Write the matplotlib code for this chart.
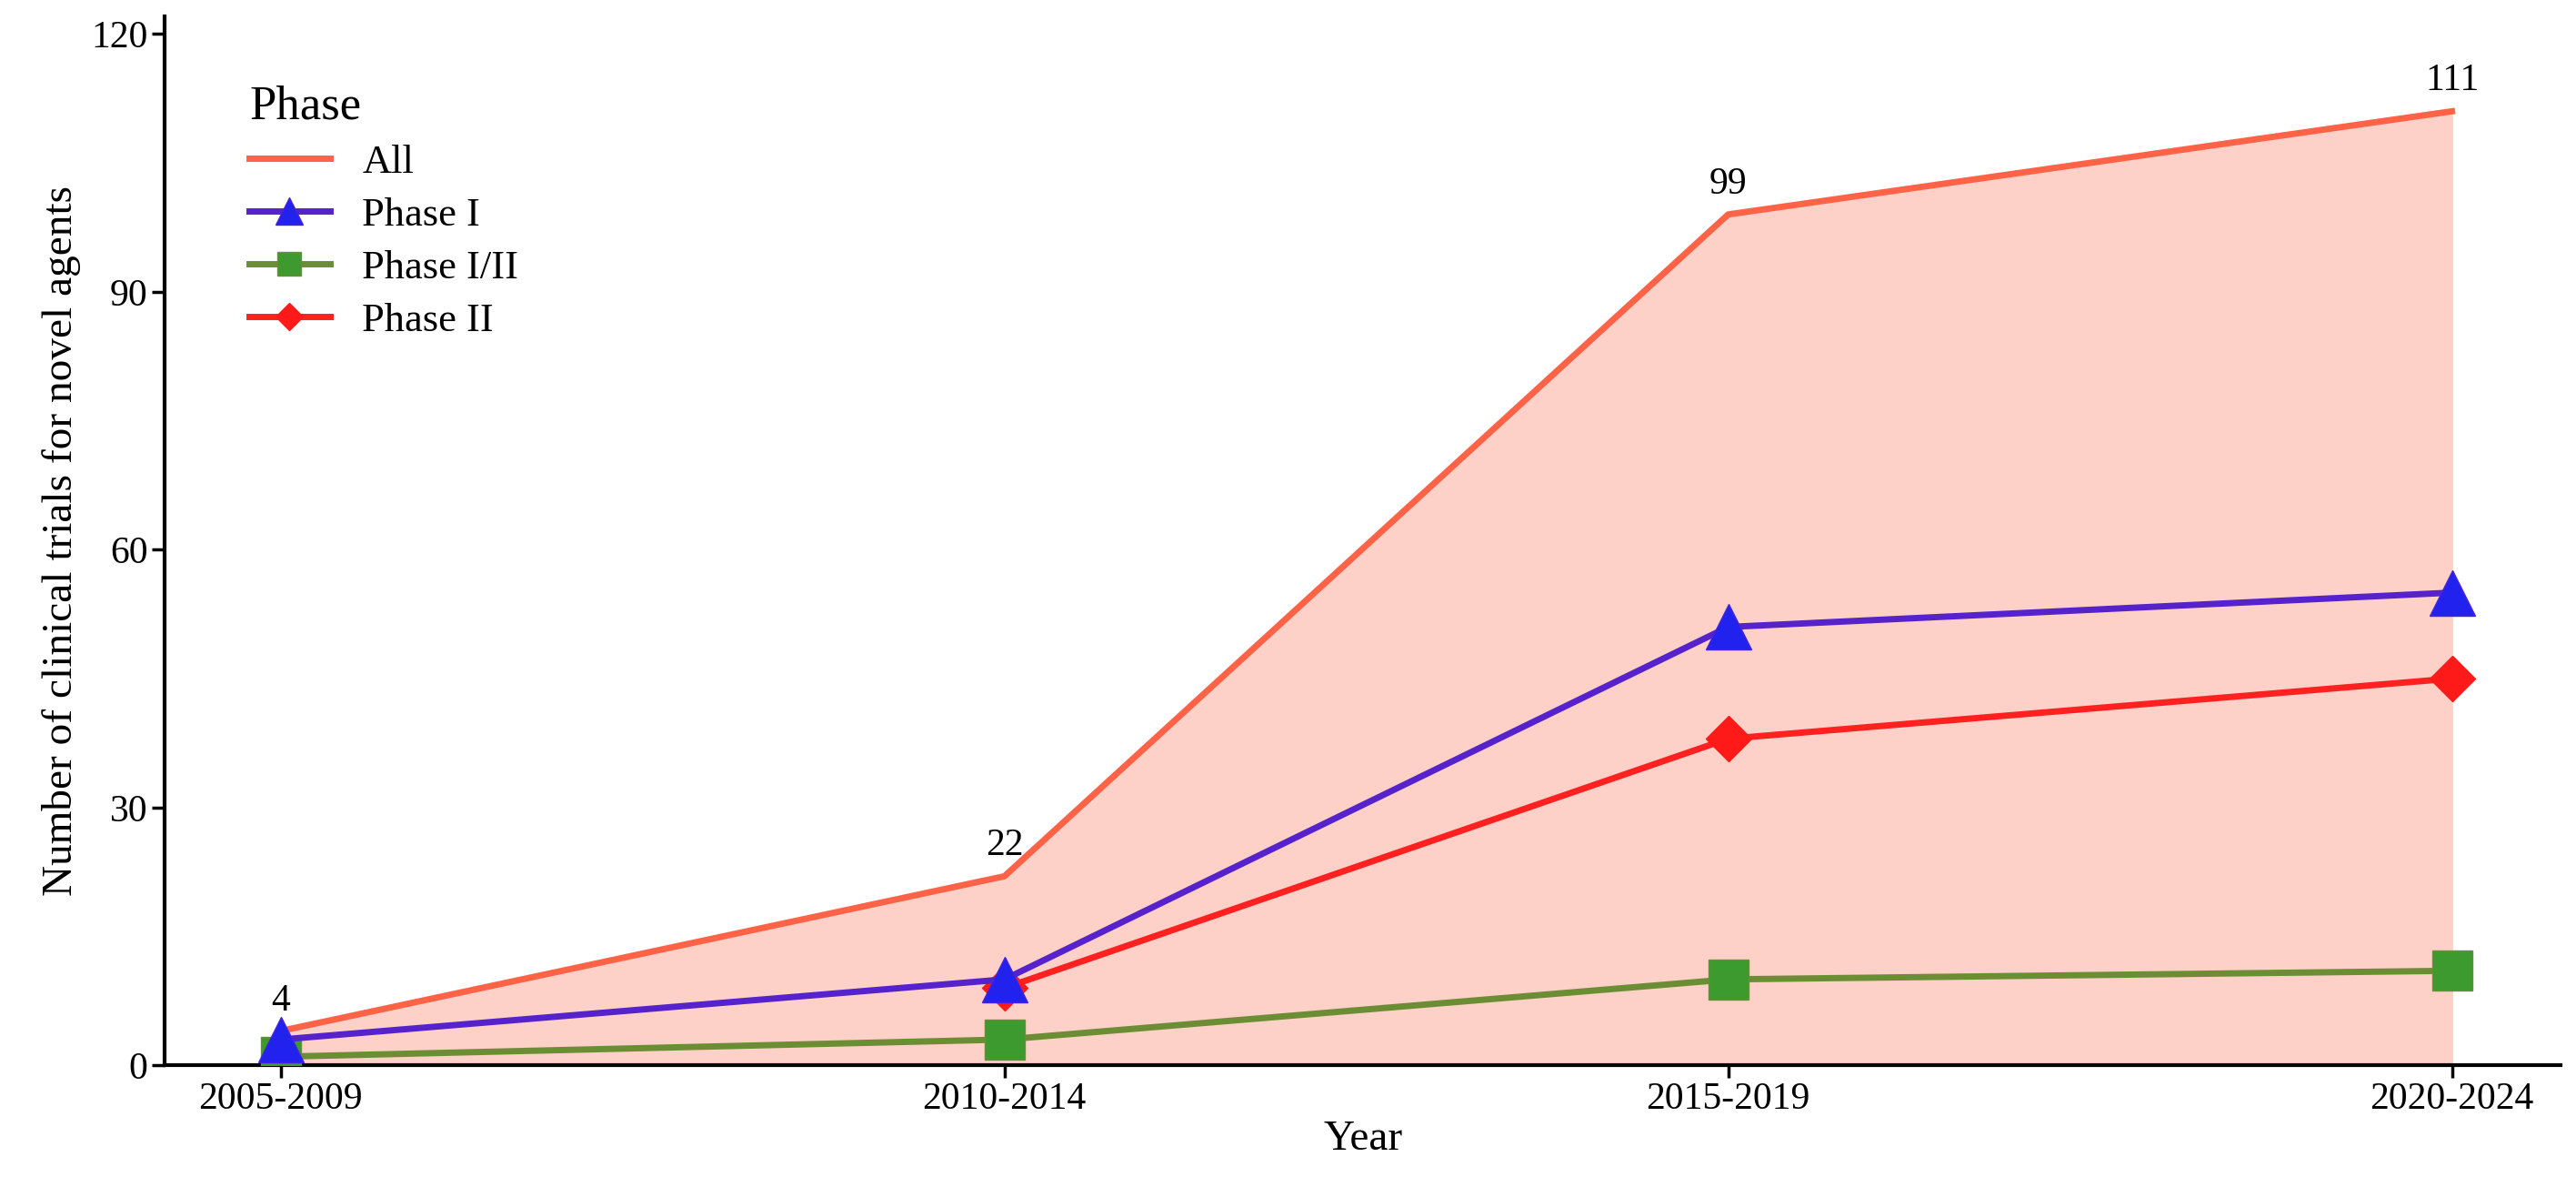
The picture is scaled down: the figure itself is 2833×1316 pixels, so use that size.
import matplotlib
matplotlib.use("Agg")
import matplotlib.pyplot as plt

periods = ["2005-2009", "2010-2014", "2015-2019", "2020-2024"]
all_vals = [4, 22, 99, 111]
phase1 = [3, 10, 51, 55]
phase12 = [1, 3, 10, 11]
phase2_periods = ["2010-2014", "2015-2019", "2020-2024"]
phase2 = [9, 38, 45]

plt.rcParams['font.family'] = ['Liberation Serif', 'DejaVu Serif']
fig = plt.figure(figsize=(28.33, 13.16), dpi=100)
ax = fig.add_axes([0.064, 0.11, 0.93, 0.876])
x = list(range(len(periods)))
x2 = [periods.index(p) for p in phase2_periods]

ax.fill_between(x, all_vals, color="#fdd0c8", zorder=1)
ax.plot(x, all_vals, color="#ff6347", lw=5, label="All", zorder=2)
for xi, v in zip(x, all_vals):
    ax.annotate(str(v), (xi, v), xytext=(0, 10), textcoords="offset points",
                ha="center", va="bottom", fontsize=30)
ax.plot(x, phase12, color="#6b8e35", lw=5, marker="s", markersize=32,
        markerfacecolor="#3c9a2e", markeredgecolor="#6b8e35", label="Phase I/II", zorder=3)
ax.plot(x2, phase2, color="#ff2020", lw=5, marker="D", markersize=25,
        markerfacecolor="#ff1a1a", markeredgecolor="#ff1a1a", label="Phase II", zorder=4)
ax.plot(x, phase1, color="#5522cc", lw=5, marker="^", markersize=36,
        markerfacecolor="#2222ee", markeredgecolor="#4422dd", label="Phase I", zorder=5)

ax.set_xlim(-0.16, 3.15)
ax.set_ylim(0, 122)
ax.set_yticks([0, 30, 60, 90, 120])
ax.set_xticks(x)
ax.set_xticklabels(periods)
ax.tick_params(labelsize=30, width=2.5, length=10)
for s in ["top", "right"]:
    ax.spines[s].set_visible(False)
for s in ["left", "bottom"]:
    ax.spines[s].set_linewidth(3)
ax.set_xlabel("Year", fontsize=34, labelpad=2)
ax.set_ylabel("Number of clinical trials for novel agents", fontsize=34, labelpad=8)

h, l = ax.get_legend_handles_labels()
order = [l.index(n) for n in ["All", "Phase I", "Phase I/II", "Phase II"]]
leg = ax.legend([h[i] for i in order], [l[i] for i in order], title="Phase",
                loc="upper left", bbox_to_anchor=(0.02, 0.97), frameon=False,
                fontsize=32, title_fontsize=38, markerscale=0.6, handlelength=2.0,
                labelspacing=0.4)
leg._legend_box.align = "left"
fig.savefig("out.png", dpi=100)
